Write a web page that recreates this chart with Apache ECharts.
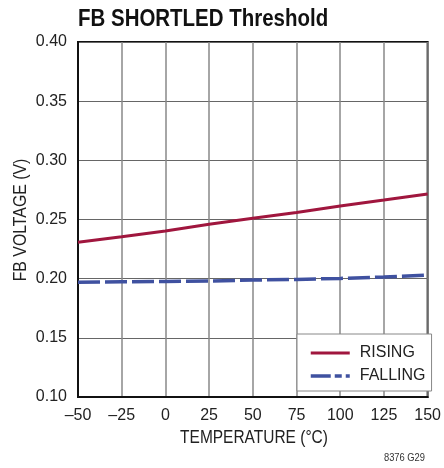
<!DOCTYPE html>
<html><head><meta charset="utf-8">
<script src="https://cdn.jsdelivr.net/npm/echarts@6/dist/echarts.min.js"></script>
<style>html,body{margin:0;padding:0;background:#fff}#c{width:444px;height:468px}</style>
</head><body><div id="c"></div>
<script>
const temps = [-50, -25, 0, 25, 50, 75, 100, 125, 150];
const rising = [0.2307, 0.2354, 0.2402, 0.2459, 0.2510, 0.2560, 0.2614, 0.2664, 0.2715];
const falling = [0.1969, 0.1974, 0.1977, 0.1980, 0.1988, 0.1994, 0.2002, 0.2014, 0.2030];
const seriesNames = ['RISING', 'FALLING'];
const titleText = 'FB SHORTLED Threshold';
const xName = 'TEMPERATURE (°C)';
const yName = 'FB VOLTAGE (V)';
const noteText = '8376 G29';

const F = '"Liberation Sans", Arial, sans-serif';
const chart = echarts.init(document.getElementById('c'), null, {renderer: 'canvas'});
chart.setOption({
  animation: false,
  backgroundColor: '#fff',
  grid: {left: 78, right: 14, top: 42, bottom: 71, show: true, borderColor: '#111', borderWidth: 2, backgroundColor: 'transparent'},
  xAxis: {
    type: 'value', min: -50, max: 150, interval: 25,
    axisLine: {show: true, onZero: false, lineStyle: {color: '#111', width: 2}},
    axisTick: {show: false},
    axisLabel: {fontFamily: F, fontSize: 16, color: '#222', margin: 11,
      formatter: v => String(v).replace('-', '\u2013')},
    splitLine: {show: true, lineStyle: {color: '#888', width: 1.5}}
  },
  yAxis: {
    type: 'value', min: 0.10, max: 0.40, interval: 0.05,
    axisLine: {show: true, onZero: false, lineStyle: {color: '#111', width: 2}},
    axisTick: {show: false},
    axisLabel: {fontFamily: F, fontSize: 16, color: '#222', margin: 11,
      formatter: v => v.toFixed(2)},
    splitLine: {show: true, lineStyle: {color: '#666', width: 1}}
  },
  legend: {
    left: 297, top: 334, orient: 'vertical',
    backgroundColor: '#fff', borderColor: '#888', borderWidth: 1,
    padding: [11, 6, 7, 12], itemGap: 7, itemWidth: 39, itemHeight: 14,
    itemStyle: {opacity: 0},
    textStyle: {fontFamily: F, fontSize: 16, color: '#222', padding: [0, 0, 0, 5]},
    data: [
      {name: seriesNames[0], lineStyle: {width: 3}},
      {name: seriesNames[1], lineStyle: {width: 3.5, type: [20, 4, 7, 4]}}
    ]
  },
  graphic: [
    {type: 'text', x: 78, y: 8, scaleX: 0.89, z: 10,
     style: {text: titleText, fontFamily: F, fontWeight: 'bold', fontSize: 23, fill: '#111', textAlign: 'left', textVerticalAlign: 'top'}},
    {type: 'text', x: 254, y: 438, scaleX: 0.86, z: 10,
     style: {text: xName, fontFamily: F, fontSize: 18, fill: '#222', textAlign: 'center', textVerticalAlign: 'middle'}},
    {type: 'text', x: 21, y: 220, rotation: Math.PI / 2, scaleX: 0.88, z: 10,
     style: {text: yName, fontFamily: F, fontSize: 18, fill: '#222', textAlign: 'center', textVerticalAlign: 'middle'}},
    {type: 'text', x: 425, y: 458, scaleX: 0.85, z: 10,
     style: {text: noteText, fontFamily: F, fontSize: 11, fill: '#333', textAlign: 'right', textVerticalAlign: 'middle'}}
  ],
  series: [
    {name: seriesNames[0], type: 'line', symbol: 'none', z: 3,
     data: temps.map((t, i) => [t, rising[i]]),
     lineStyle: {color: '#a0163e', width: 3}, itemStyle: {color: '#a0163e'}},
    {name: seriesNames[1], type: 'line', symbol: 'none', z: 3,
     data: temps.map((t, i) => [t, falling[i]]),
     lineStyle: {color: '#3f51a0', width: 3.5, type: [22, 5]}, itemStyle: {color: '#3f51a0'}}
  ]
});
</script></body></html>
